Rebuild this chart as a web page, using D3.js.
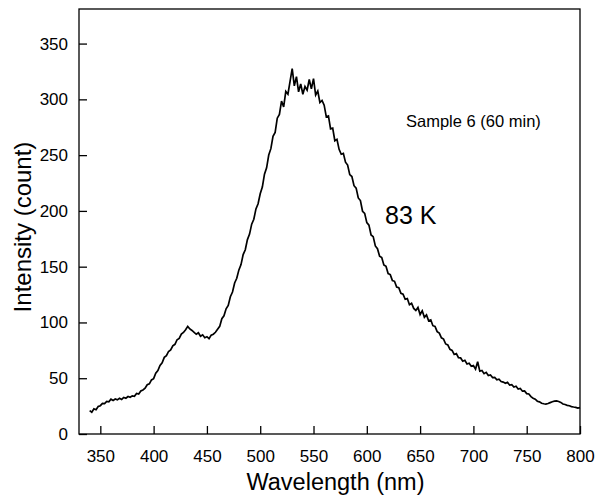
<!DOCTYPE html>
<html>
<head>
<meta charset="utf-8">
<script src="https://cdn.jsdelivr.net/npm/d3@7"></script>
<style>
  body { margin: 0; background: #fff; }
  text { font-family: "Liberation Sans", Arial, sans-serif; fill: #000; }
</style>
</head>
<body>
<div id="chart"></div>
<script>
// Wavelength grid of the spectrum (nm), every 2 nm from 340 to 800
var wavelengths = d3.range(340, 801, 2);

// Intensity (count), one value per wavelength
var intensity = [
  21, 19.5, 22.5, 21.8, 24.6,
  25.4, 27.5, 27.2, 29.3, 28.9,
  31.2, 30.1, 31.4, 30.6, 32,
  31, 32.8, 32.1, 33.6, 32.9,
  34.2, 33.8, 36.4, 35.9, 38.6,
  39.5, 41, 44.2, 45, 48.5,
  49.6, 54.5, 56.8, 61.5, 63.9,
  68.7, 70.2, 74, 75.3, 79.1,
  80.4, 84.5, 85.7, 89.6, 91,
  93.5, 96.5, 94.2, 92.8, 91.1,
  89.4, 90.8, 87.6, 88.9, 86.3,
  87.2, 85.4, 88.6, 89.5, 91.2,
  93.8, 96.5, 103.4, 105.9, 112.2,
  115.2, 123.1, 127.3, 135.4, 139.6,
  147.1, 151.9, 160.8, 165.2, 174.3,
  179.2, 188.1, 192.5, 201.8, 206.4,
  215.3, 221.4, 232.9, 238.6, 250.1,
  255.8, 266.9, 270.4, 283.1, 286.5,
  298.5, 293.2, 307.1, 304.6, 316.2,
  327.5, 312.1, 320.4, 306.8, 313.9,
  304.6, 311.5, 308.2, 317.8, 309.4,
  318.6, 303.9, 307.5, 297.2, 299.1,
  294.8, 284.3, 285.1, 273.6, 274.2,
  262.9, 264.1, 255.2, 250.8, 251.6,
  243.7, 241.1, 232.5, 230.8, 222.6,
  220.4, 211.6, 209.3, 199.7, 197.8,
  189.5, 187.2, 178.4, 176.9, 168.6,
  166.1, 159.4, 158.2, 151.5, 150.3,
  143.8, 142.9, 137.6, 136.9, 131.8,
  131.2, 126.1, 125.3, 120.8, 121.4,
  115.9, 117.2, 112.6, 110.8, 113.5,
  107.1, 110.4, 104.6, 106.8, 101.5,
  102.3, 97.1, 96.5, 91.8, 90.4,
  86.2, 85.1, 80.7, 79.8, 75.9,
  74.9, 71.3, 72.1, 68.4, 68.2,
  65.2, 66.1, 62.8, 63.5, 60.7,
  61.4, 58.2, 64.8, 56.3, 56.9,
  54.1, 55.3, 52.4, 52.9, 50.6,
  50.8, 48.6, 49.2, 47.1, 46.5,
  45.4, 46.3, 43.8, 44.2, 42.1,
  42.8, 40.3, 40.9, 38.4, 38.6,
  36.2, 35.9, 33.5, 32.1, 31.2,
  29.4, 28.8, 27.6, 27.1, 26.8,
  27.3, 28.1, 28.9, 29.4, 29.6,
  29.1, 28.3, 26.9, 26.4, 25.7,
  25.3, 24.6, 24.2, 23.9, 23.2,
  23.6
];

var xTicks = [350, 400, 450, 500, 550, 600, 650, 700, 750, 800];
var yTicks = [0, 50, 100, 150, 200, 250, 300, 350];

var width = 599, height = 495;
var margin = {top: 9, right: 19, bottom: 61, left: 79};

var svg = d3.select("#chart").append("svg")
    .attr("width", width).attr("height", height);

var x = d3.scaleLinear().domain([330, 800]).range([margin.left, width - margin.right]);
var y = d3.scaleLinear().domain([0, 381]).range([height - margin.bottom, margin.top]);

// frame
svg.append("rect")
    .attr("x", x(330)).attr("y", y(381))
    .attr("width", x(800) - x(330)).attr("height", y(0) - y(381))
    .style("fill", "none").style("stroke", "#000").style("stroke-width", 1.3);

// axes with inward ticks
var xAxis = svg.append("g")
    .attr("transform", "translate(0," + y(0) + ")")
    .call(d3.axisBottom(x).tickValues(xTicks).tickSizeInner(-8).tickSizeOuter(0).tickPadding(16));
var yAxis = svg.append("g")
    .attr("transform", "translate(" + x(330) + ",0)")
    .call(d3.axisLeft(y).tickValues(yTicks).tickSizeInner(-8).tickSizeOuter(0).tickPadding(11));

[xAxis, yAxis].forEach(function(g) {
    g.select(".domain").remove();
    g.selectAll("line").style("stroke", "#000").style("stroke-width", 1.3);
    g.selectAll("text").style("font-size", "17px").style("font-family", "'Liberation Sans', Arial, sans-serif");
});

// spectrum
var points = wavelengths.map(function(w, i) { return [w, intensity[i]]; });
svg.append("path")
    .datum(points)
    .attr("d", d3.line().x(function(d) { return x(d[0]); }).y(function(d) { return y(d[1]); }))
    .style("fill", "none").style("stroke", "#000").style("stroke-width", 1.7);

// labels
svg.append("text")
    .attr("x", (x(330) + x(800)) / 2 + 6).attr("y", 490)
    .attr("text-anchor", "middle")
    .style("font-size", "23.5px")
    .text("Wavelength (nm)");

svg.append("text")
    .attr("transform", "translate(31,227) rotate(-90)")
    .attr("text-anchor", "middle")
    .style("font-size", "24px")
    .text("Intensity (count)");

svg.append("text")
    .attr("x", 406).attr("y", 127)
    .style("font-size", "16.5px")
    .text("Sample 6 (60 min)");

svg.append("text")
    .attr("x", 385).attr("y", 224)
    .style("font-size", "25px")
    .text("83 K");
</script>
</body>
</html>
